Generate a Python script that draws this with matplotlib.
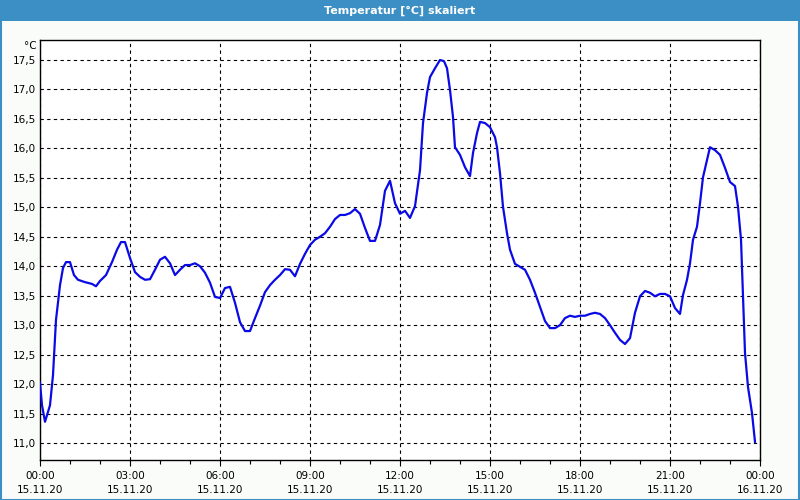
import matplotlib
matplotlib.use("Agg")
import matplotlib.pyplot as plt
from matplotlib.patches import Rectangle
from matplotlib.ticker import MultipleLocator, FixedLocator, FuncFormatter

title = "Temperatur [°C] skaliert"
unit = "°C"

hours = [0, 0.067, 0.167, 0.267, 0.333, 0.433, 0.533, 0.667, 0.767, 0.867, 1.0, 1.133, 1.267, 1.5,
         1.733, 1.867, 2.0, 2.2, 2.4, 2.567, 2.7, 2.833, 3.0, 3.167, 3.333, 3.5, 3.667, 3.833, 4.0,
         4.167, 4.333, 4.5, 4.667, 4.833, 5.0, 5.167, 5.333, 5.5, 5.667, 5.833, 6.0, 6.167, 6.333,
         6.5, 6.667, 6.833, 7.0, 7.167, 7.333, 7.5, 7.667, 7.833, 8.0, 8.167, 8.333, 8.5, 8.667,
         8.833, 9.0, 9.167, 9.333, 9.5, 9.667, 9.833, 10.0, 10.167, 10.333, 10.5, 10.667, 10.833,
         11.0, 11.167, 11.333, 11.5, 11.667, 11.833, 12.0, 12.167, 12.333, 12.5, 12.667, 12.767,
         12.9, 13.0, 13.167, 13.333, 13.467, 13.567, 13.667, 13.767, 13.833, 14.0, 14.167, 14.333,
         14.433, 14.567, 14.667, 14.833, 15.0, 15.167, 15.233, 15.333, 15.433, 15.567, 15.667,
         15.833, 16.0, 16.167, 16.333, 16.5, 16.667, 16.833, 17.0, 17.167, 17.333, 17.5, 17.667,
         17.833, 18.0, 18.167, 18.333, 18.5, 18.667, 18.833, 19.0, 19.167, 19.333, 19.5, 19.667,
         19.833, 20.0, 20.167, 20.333, 20.5, 20.667, 20.833, 21.0, 21.167, 21.333, 21.433, 21.567,
         21.667, 21.767, 21.9, 22.0, 22.1, 22.233, 22.333, 22.5, 22.667, 22.833, 23.0, 23.167,
         23.267, 23.367, 23.433, 23.5, 23.6, 23.733, 23.833]
temps = [12.02, 11.64, 11.36, 11.53, 11.64, 12.15, 13.09, 13.68, 13.97, 14.07, 14.07, 13.85, 13.77,
         13.73, 13.70, 13.66, 13.75, 13.85, 14.07, 14.28, 14.41, 14.41, 14.14, 13.90, 13.82, 13.77,
         13.78, 13.94, 14.11, 14.16, 14.05, 13.85, 13.94, 14.02, 14.02, 14.05, 14.00, 13.89, 13.72,
         13.48, 13.46, 13.63, 13.65, 13.38, 13.05, 12.90, 12.90, 13.12, 13.33, 13.56, 13.68, 13.77,
         13.85, 13.95, 13.94, 13.83, 14.04, 14.21, 14.36, 14.45, 14.50, 14.56, 14.67, 14.80, 14.87,
         14.87, 14.90, 14.97, 14.89, 14.65, 14.43, 14.43, 14.70, 15.28, 15.45, 15.07, 14.89, 14.94,
         14.82, 15.02, 15.63, 16.43, 16.94, 17.21, 17.36, 17.50, 17.48, 17.36, 16.99, 16.53, 16.02,
         15.89, 15.68, 15.53, 15.92, 16.26, 16.45, 16.43, 16.36, 16.19, 16.02, 15.58, 15.01, 14.56,
         14.28, 14.04, 13.99, 13.94, 13.77, 13.55, 13.31, 13.07, 12.95, 12.95, 13.00, 13.12, 13.16,
         13.14, 13.16, 13.16, 13.19, 13.21, 13.19, 13.12, 13.00, 12.87, 12.75, 12.68, 12.78, 13.21,
         13.49, 13.58, 13.55, 13.49, 13.53, 13.53, 13.49, 13.29, 13.19, 13.51, 13.77, 14.05, 14.45,
         14.67, 15.07, 15.51, 15.80, 16.02, 15.97, 15.89, 15.67, 15.43, 15.36, 15.01, 14.45, 13.48,
         12.53, 11.95, 11.51, 11.02]

x_tick_hours = [0, 3, 6, 9, 12, 15, 18, 21, 24]
x_tick_labels = ["00:00\n15.11.20", "03:00\n15.11.20", "06:00\n15.11.20", "09:00\n15.11.20",
                 "12:00\n15.11.20", "15:00\n15.11.20", "18:00\n15.11.20", "21:00\n15.11.20",
                 "00:00\n16.11.20"]
y_ticks = [11.0, 11.5, 12.0, 12.5, 13.0, 13.5, 14.0, 14.5, 15.0, 15.5, 16.0, 16.5, 17.0, 17.5]

W, H = 800, 500
fig = plt.figure(figsize=(8, 5), dpi=100, facecolor="#fafcfa")
bar_col = "#3b8fc4"

# title bar
fig.patches.append(Rectangle((0, 1 - 21 / H), 1, 21 / H, transform=fig.transFigure,
                             facecolor=bar_col, edgecolor="none", zorder=0))
# border
fig.patches.append(Rectangle((0.5 / W, 0.5 / H), 1 - 1.5 / W, 1 - 1.5 / H, transform=fig.transFigure,
                             facecolor="none", edgecolor=bar_col, linewidth=1.5, zorder=1))
fig.text(0.5, 1 - 10.5 / H, title, ha="center", va="center", color="white",
         fontsize=8, fontweight="bold", family="DejaVu Sans")

ax = fig.add_axes([40 / W, 1 - 460 / H, 720 / W, 420 / H])
ax.set_facecolor("white")
ax.plot(hours, temps, color="#0a0ae6", linewidth=1.6, zorder=3)

ax.set_xlim(0, 24)
y0 = 11.0 - 17 / 58.92
y1 = 17.5 + 20 / 58.92
ax.set_ylim(y0, y1)

ax.xaxis.set_major_locator(FixedLocator(x_tick_hours))
ax.set_xticklabels(x_tick_labels)
ax.xaxis.set_minor_locator(MultipleLocator(1))
ax.yaxis.set_major_locator(FixedLocator(y_ticks))
ax.yaxis.set_major_formatter(FuncFormatter(lambda v, p: f"{v:.1f}".replace(".", ",")))

ax.tick_params(axis="x", which="major", direction="out", length=4, width=0.8,
               labelsize=7.5, pad=4, colors="black")
ax.tick_params(axis="x", which="minor", direction="out", length=3, width=0.8)
ax.tick_params(axis="y", which="major", length=0, labelsize=7.5, pad=3)
for lab in ax.get_xticklabels():
    lab.set_linespacing(1.45)

ax.grid(True, which="major", axis="both", color="black", linestyle=(0, (3, 3)), linewidth=0.8)
for s in ax.spines.values():
    s.set_color("black")
    s.set_linewidth(1.0)

fig.text(37 / W, 1 - 46 / H, unit, ha="right", va="center", fontsize=7.5)

fig.savefig("out.png", dpi=100, facecolor=fig.get_facecolor())
